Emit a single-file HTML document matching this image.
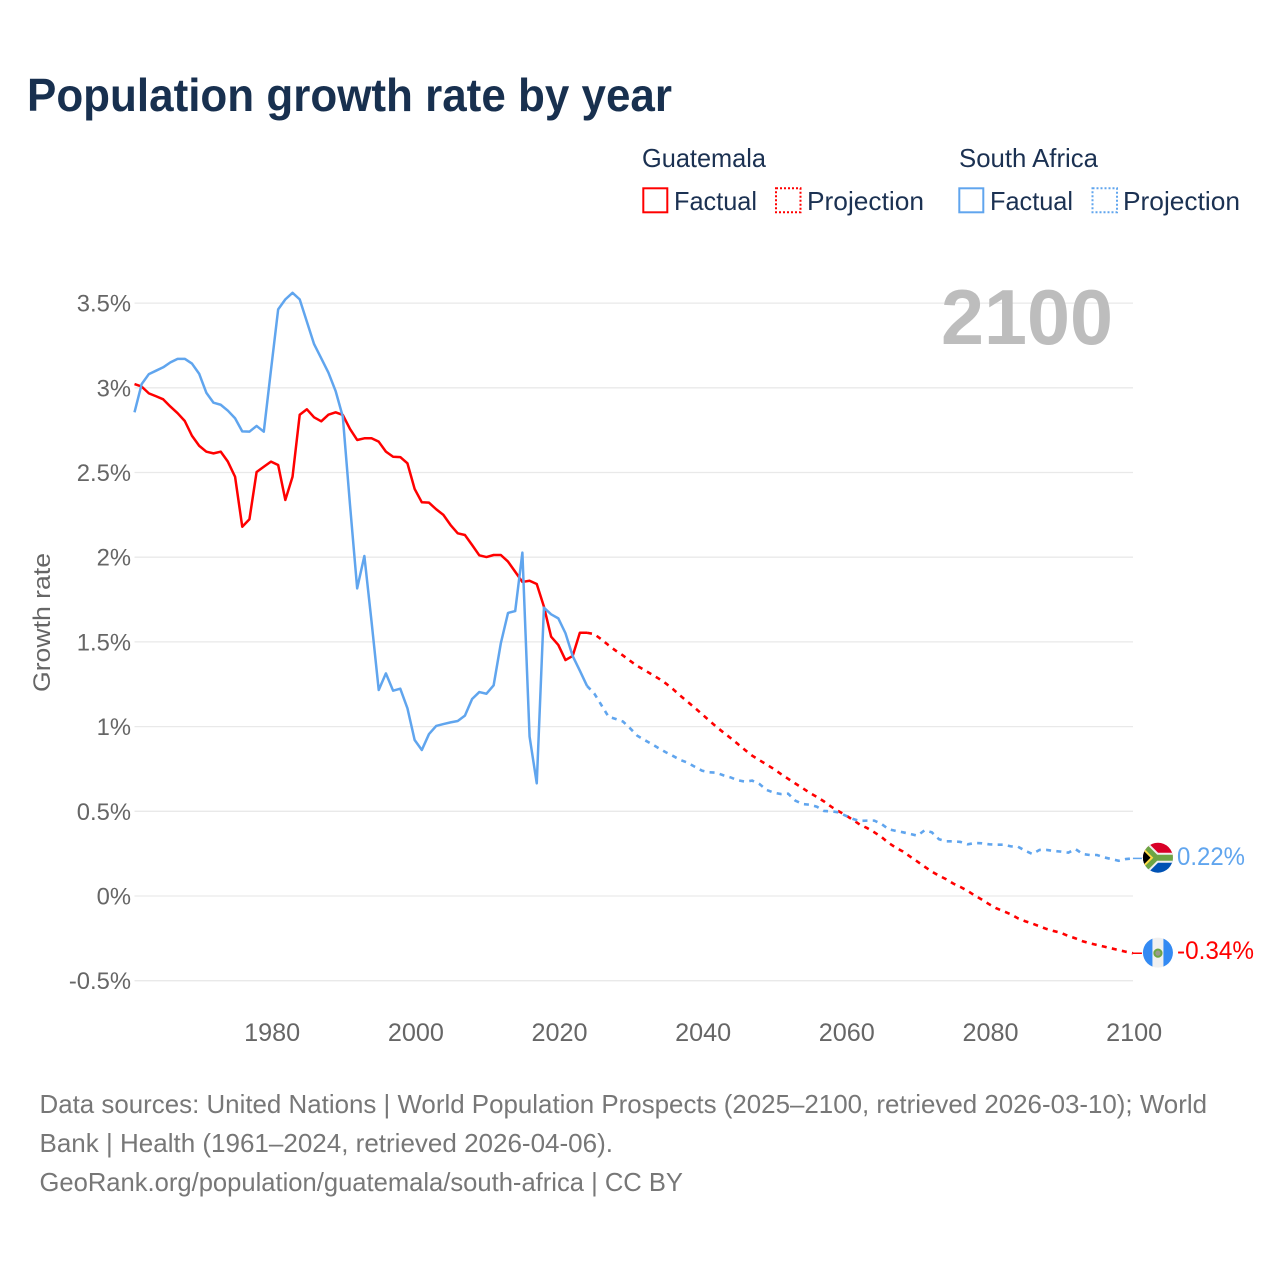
<!DOCTYPE html>
<html lang="en">
<head>
<meta charset="utf-8">
<title>Population growth rate by year</title>
<style>
html,body{margin:0;padding:0;background:#fff;}
svg{display:block;font-family:"Liberation Sans",sans-serif;}
.leg{font-size:26px;fill:#1b3152;}
.foot{font-size:26px;fill:#777;}
.ytick{font-size:23.8px;fill:#666;}
.xtick{font-size:25.2px;fill:#666;}
</style>
</head>
<body>
<svg id="chart" width="1280" height="1280" viewBox="0 0 1280 1280" xmlns="http://www.w3.org/2000/svg">
  <defs>
    <clipPath id="flag-clip"><circle cx="0" cy="0" r="15"></circle></clipPath>
  </defs>
  <text x="27" y="111" font-size="46" font-weight="700" fill="#18304f" textLength="645" lengthAdjust="spacingAndGlyphs">Population growth rate by year</text>

  <g>
    <text class="leg" x="642" y="167" textLength="124" lengthAdjust="spacingAndGlyphs">Guatemala</text>
    <g>
      <rect x="643.3" y="188.3" width="24" height="24" fill="none" stroke="#ff0000" stroke-width="2"></rect>
      <text class="leg" x="674" y="210" textLength="83" lengthAdjust="spacingAndGlyphs">Factual</text>
    </g>
    <g>
      <rect x="776" y="188.3" width="24.5" height="24" fill="none" stroke="#ff0000" stroke-width="2" stroke-dasharray="2 2"></rect>
      <text class="leg" x="807" y="210" textLength="117" lengthAdjust="spacingAndGlyphs">Projection</text>
    </g>
    <text class="leg" x="959" y="167" textLength="139" lengthAdjust="spacingAndGlyphs">South Africa</text>
    <g>
      <rect x="959.3" y="188.3" width="24" height="24" fill="none" stroke="#60a5ee" stroke-width="2"></rect>
      <text class="leg" x="990" y="210" textLength="83" lengthAdjust="spacingAndGlyphs">Factual</text>
    </g>
    <g>
      <rect x="1092.5" y="188.3" width="24.5" height="24" fill="none" stroke="#60a5ee" stroke-width="2" stroke-dasharray="2 2"></rect>
      <text class="leg" x="1123" y="210" textLength="117" lengthAdjust="spacingAndGlyphs">Projection</text>
    </g>
  </g>

  <g id="grid"></g>
  <g id="y-ticks"></g>
  <g id="x-ticks"></g>
  <text transform="translate(50,692) rotate(-90)" font-size="24.5" fill="#666" textLength="139" lengthAdjust="spacingAndGlyphs">Growth rate</text>
  <text x="941" y="344" font-size="78" font-weight="700" fill="#bdbdbd" textLength="172" lengthAdjust="spacingAndGlyphs">2100</text>

  <g id="series"></g>

  <g id="flag-south-africa">
    <g clip-path="url(#flag-clip)">
      <rect x="-16" y="-16" width="32" height="16" fill="#d80027"></rect>
      <rect x="-16" y="0" width="32" height="16" fill="#0052b4"></rect>
      <path d="M-16,-14 L-2,0 L-16,14 M-2,0 L16,0" fill="none" stroke="#f0f0f0" stroke-width="10"></path>
      <path d="M-16,-14 L-2,0 L-16,14 M-2,0 L16,0" fill="none" stroke="#6da544" stroke-width="6"></path>
      <polygon points="-16,-10 -6,0 -16,10" fill="#000" stroke="#ffda44" stroke-width="2"></polygon>
    </g>
  </g>
  <g id="flag-guatemala">
    <g clip-path="url(#flag-clip)">
      <rect x="-16" y="-16" width="32" height="32" fill="#f0f0f0"></rect>
      <rect x="-16" y="-16" width="10.5" height="32" fill="#338af3"></rect>
      <rect x="5.5" y="-16" width="10.5" height="32" fill="#338af3"></rect>
      <circle cx="0" cy="0.5" r="3.6" fill="#9a9a8c" stroke="#6da544" stroke-width="2"></circle>
    </g>
  </g>
  <text id="value-south-africa" x="1177" y="865" font-size="25" fill="#60a5ee" textLength="68" lengthAdjust="spacingAndGlyphs"></text>
  <text id="value-guatemala" x="1177" y="959" font-size="25" fill="#ff0000" textLength="77" lengthAdjust="spacingAndGlyphs"></text>

  <g>
    <text class="foot" x="39.5" y="1113" textLength="1167.5" lengthAdjust="spacingAndGlyphs">Data sources: United Nations | World Population Prospects (2025–2100, retrieved 2026-03-10); World</text>
    <text class="foot" x="39.5" y="1152" textLength="573.5" lengthAdjust="spacingAndGlyphs">Bank | Health (1961–2024, retrieved 2026-04-06).</text>
    <text class="foot" x="39.5" y="1191" textLength="643.5" lengthAdjust="spacingAndGlyphs">GeoRank.org/population/guatemala/south-africa | CC BY</text>
  </g>
</svg>
<script>
const yTickValues = [3.5, 3, 2.5, 2, 1.5, 1, 0.5, 0, -0.5];
const yTickLabels = ['3.5%', '3%', '2.5%', '2%', '1.5%', '1%', '0.5%', '0%', '-0.5%'];
const xTickYears = [1980, 2000, 2020, 2040, 2060, 2080, 2100];

const factualYears = [1961,1962,1963,1964,1965,1966,1967,1968,1969,1970,1971,1972,1973,1974,1975,1976,1977,1978,1979,1980,1981,1982,1983,1984,1985,1986,1987,1988,1989,1990,1991,1992,1993,1994,1995,1996,1997,1998,1999,2000,2001,2002,2003,2004,2005,2006,2007,2008,2009,2010,2011,2012,2013,2014,2015,2016,2017,2018,2019,2020,2021,2022,2023,2024];
const projectionYears = [2024,2025,2026,2027,2028,2029,2030,2031,2032,2033,2034,2035,2036,2037,2038,2039,2040,2041,2042,2043,2044,2045,2046,2047,2048,2049,2050,2051,2052,2053,2054,2055,2056,2057,2058,2059,2060,2061,2062,2063,2064,2065,2066,2067,2068,2069,2070,2071,2072,2073,2074,2075,2076,2077,2078,2079,2080,2081,2082,2083,2084,2085,2086,2087,2088,2089,2090,2091,2092,2093,2094,2095,2096,2097,2098,2099,2100];

const guatemalaFactual = [3.022,3.007,2.967,2.95,2.932,2.889,2.85,2.804,2.717,2.658,2.623,2.613,2.623,2.564,2.475,2.18,2.224,2.503,2.534,2.564,2.544,2.338,2.475,2.841,2.873,2.826,2.802,2.841,2.855,2.84,2.757,2.692,2.702,2.702,2.682,2.623,2.593,2.591,2.554,2.403,2.324,2.322,2.283,2.25,2.19,2.141,2.131,2.072,2.011,2.001,2.013,2.013,1.974,1.914,1.854,1.861,1.842,1.708,1.531,1.482,1.393,1.417,1.554,1.554];
const southAfricaFactual = [2.855,3.022,3.081,3.101,3.121,3.15,3.171,3.171,3.143,3.083,2.971,2.912,2.9,2.865,2.82,2.743,2.741,2.775,2.741,3.105,3.463,3.522,3.561,3.522,3.39,3.258,3.174,3.089,2.981,2.829,2.31,1.816,2.007,1.62,1.216,1.314,1.212,1.224,1.108,0.921,0.862,0.956,1.004,1.015,1.025,1.033,1.065,1.163,1.204,1.194,1.244,1.492,1.671,1.682,2.027,0.941,0.665,1.702,1.663,1.639,1.551,1.417,1.33,1.24];
const guatemalaProjection = [1.554,1.546,1.515,1.48,1.448,1.42,1.388,1.358,1.334,1.308,1.283,1.254,1.22,1.182,1.147,1.111,1.074,1.036,0.999,0.965,0.932,0.897,0.862,0.828,0.802,0.776,0.75,0.72,0.692,0.664,0.637,0.609,0.585,0.558,0.527,0.501,0.477,0.45,0.421,0.401,0.376,0.348,0.313,0.285,0.262,0.232,0.203,0.173,0.144,0.12,0.099,0.073,0.053,0.03,0.002,-0.022,-0.049,-0.073,-0.09,-0.108,-0.132,-0.149,-0.163,-0.179,-0.195,-0.207,-0.218,-0.236,-0.25,-0.267,-0.279,-0.289,-0.299,-0.309,-0.319,-0.329,-0.338];
const southAfricaProjection = [1.24,1.196,1.127,1.058,1.045,1.03,0.99,0.946,0.921,0.897,0.872,0.848,0.826,0.803,0.787,0.763,0.74,0.73,0.728,0.712,0.7,0.683,0.675,0.681,0.661,0.626,0.61,0.602,0.604,0.563,0.543,0.539,0.527,0.502,0.5,0.494,0.474,0.455,0.443,0.445,0.445,0.425,0.394,0.384,0.376,0.366,0.356,0.388,0.376,0.335,0.323,0.323,0.319,0.305,0.313,0.311,0.305,0.303,0.303,0.293,0.291,0.267,0.248,0.272,0.272,0.266,0.262,0.256,0.277,0.248,0.242,0.242,0.228,0.218,0.208,0.218,0.222];

const SVG_NS = 'http://www.w3.org/2000/svg';
const RED = '#ff0000';
const BLUE = '#60a5ee';
const xScale = function (year) { return 134.5 + (year - 1961) * 7.183; };
const yScale = function (value) { return 896 - value * 169.4; };

function make(tag, attrs, parent) {
  const el = document.createElementNS(SVG_NS, tag);
  Object.keys(attrs).forEach(function (k) { el.setAttribute(k, attrs[k]); });
  parent.appendChild(el);
  return el;
}
function linePath(years, values) {
  return years.map(function (year, i) {
    return (i ? 'L' : 'M') + xScale(year).toFixed(2) + ',' + yScale(values[i]).toFixed(2);
  }).join(' ');
}

const gridGroup = document.getElementById('grid');
const yTickGroup = document.getElementById('y-ticks');
const xTickGroup = document.getElementById('x-ticks');
const seriesGroup = document.getElementById('series');

yTickValues.forEach(function (value, i) {
  const line = make('line', { x1: 134.5, x2: 1133, y1: yScale(value), y2: yScale(value), stroke: '#e9e9e9', 'stroke-width': 1.3 }, gridGroup);
  
  
  const label = make('text', { x: 131, y: yScale(value) + 8.5, 'text-anchor': 'end', class: 'ytick' }, yTickGroup);
  
  
  label.textContent = yTickLabels[i];
});

xTickYears.forEach(function (year) {
  const label = make('text', { x: xScale(year) + 1.2, y: 1041, 'text-anchor': 'middle', class: 'xtick' }, xTickGroup);
  
  
  label.textContent = String(year);
});

const redFactualLine = make('path', { d: linePath(factualYears, guatemalaFactual), fill: 'none', stroke: RED, 'stroke-width': 2.5, 'stroke-linejoin': 'round' }, seriesGroup);



const redProjectionLine = make('path', { d: linePath(projectionYears, guatemalaProjection), fill: 'none', stroke: RED, 'stroke-width': 2.6, 'stroke-dasharray': '5 5.3' }, seriesGroup);



const blueFactualLine = make('path', { d: linePath(factualYears, southAfricaFactual), fill: 'none', stroke: BLUE, 'stroke-width': 2.5, 'stroke-linejoin': 'round' }, seriesGroup);



const blueProjectionLine = make('path', { d: linePath(projectionYears, southAfricaProjection), fill: 'none', stroke: BLUE, 'stroke-width': 2.6, 'stroke-dasharray': '5 5.3' }, seriesGroup);



const lastYear = projectionYears[projectionYears.length - 1];
const lastRed = guatemalaProjection[guatemalaProjection.length - 1];
const lastBlue = southAfricaProjection[southAfricaProjection.length - 1];

const redConnector = make('line', { x1: xScale(lastYear), x2: xScale(lastYear) + 9, y1: yScale(lastRed), y2: yScale(lastRed), stroke: RED, 'stroke-width': 1.5 }, seriesGroup);



const blueConnector = make('line', { x1: xScale(lastYear), x2: xScale(lastYear) + 9, y1: yScale(lastBlue), y2: yScale(lastBlue), stroke: BLUE, 'stroke-width': 1.5 }, seriesGroup);



document.getElementById('flag-south-africa').setAttribute('transform', 'translate(' + (xScale(lastYear) + 25) + ',' + (yScale(lastBlue) - 0.7) + ')');
document.getElementById('flag-guatemala').setAttribute('transform', 'translate(' + (xScale(lastYear) + 25) + ',' + (yScale(lastRed) - 0.6) + ')');

const blueValue = document.getElementById('value-south-africa');
blueValue.textContent = lastBlue.toFixed(2) + '%';
blueValue.setAttribute('y', yScale(lastBlue) + 6.5);
const redValue = document.getElementById('value-guatemala');
redValue.textContent = lastRed.toFixed(2) + '%';
redValue.setAttribute('y', yScale(lastRed) + 5.5);
</script>
</body>
</html>
